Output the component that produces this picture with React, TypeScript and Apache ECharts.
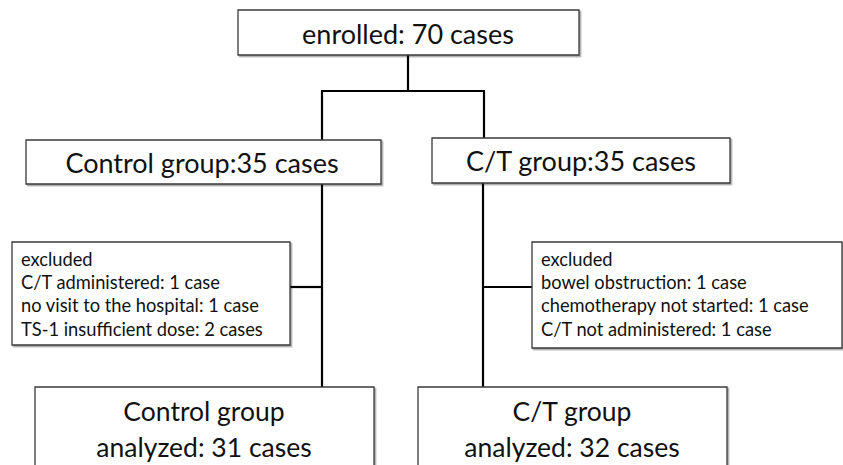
import React, { useEffect, useRef } from "react";
import * as echarts from "echarts";

// Flowchart content
const topLabel = ["enrolled: 70 cases"];
const groupLabels = ["Control group:35 cases", "C/T group:35 cases"];
const excludedControl = [
  "excluded",
  "C/T administered: 1 case",
  "no visit to the hospital: 1 case",
  "TS-1 insufficient dose: 2 cases",
];
const excludedCT = [
  "excluded",
  "bowel obstruction: 1 case",
  "chemotherapy not started: 1 case",
  "C/T not administered: 1 case",
];
const analyzedLabels = [
  ["Control group", "analyzed: 31 cases"],
  ["C/T group", "analyzed: 32 cases"],
];

const FONT = "Lato, 'Open Sans', sans-serif";

function box(x: number, y: number, w: number, h: number) {
  return {
    type: "rect",
    shape: { x, y, width: w, height: h },
    style: {
      fill: "#fff",
      stroke: "#3a3a3a",
      lineWidth: 1.3,
      shadowColor: "rgba(0,0,0,0.35)",
      shadowOffsetX: 1.5,
      shadowOffsetY: 1.5,
      shadowBlur: 1,
    },
  };
}

function line(x1: number, y1: number, x2: number, y2: number) {
  return {
    type: "line",
    shape: { x1, y1, x2, y2 },
    style: { stroke: "#000", lineWidth: 2.2 },
  };
}

function text(t: string, x: number, y: number, size: number, align: string) {
  return {
    type: "text",
    x,
    y,
    style: {
      text: t,
      fontFamily: FONT,
      fontSize: size,
      fill: "#111",
      align,
      verticalAlign: "middle",
    },
  };
}

export default function App() {
  const ref = useRef<HTMLDivElement>(null);
  useEffect(() => {
    document.body.style.margin = "0";
    const chart = echarts.init(ref.current!, null, { renderer: "svg" });
    const els: any[] = [];
    // connectors
    els.push(line(408, 55, 408, 91));
    els.push(line(321, 91, 485, 91));
    els.push(line(322, 91, 322, 140));
    els.push(line(484, 91, 484, 138));
    els.push(line(322, 184, 322, 387));
    els.push(line(483, 183, 483, 387));
    els.push(line(290, 287, 322, 287));
    els.push(line(483, 287, 532, 287));
    // boxes
    els.push(box(238, 10, 341, 45));
    els.push(text(topLabel[0], 408, 33, 27, "center"));
    els.push(box(26, 140, 355, 44));
    els.push(text(groupLabels[0], 202, 162, 27, "center"));
    els.push(box(432, 138, 298, 45));
    els.push(text(groupLabels[1], 581, 160, 27, "center"));
    els.push(box(12, 242, 278, 103));
    excludedControl.forEach((t, i) => els.push(text(t, 21, 259 + i * 23.2, 18.3, "left")));
    els.push(box(532, 242, 310, 106));
    excludedCT.forEach((t, i) => els.push(text(t, 541, 259 + i * 23.2, 18.3, "left")));
    els.push(box(35, 387, 339, 100));
    els.push(text(analyzedLabels[0][0], 204, 411, 26.5, "center"));
    els.push(text(analyzedLabels[0][1], 204, 447, 26.5, "center"));
    els.push(box(418, 387, 309, 100));
    els.push(text(analyzedLabels[1][0], 572, 411, 26.5, "center"));
    els.push(text(analyzedLabels[1][1], 572, 447, 26.5, "center"));
    chart.setOption({ animation: false, backgroundColor: "#fff", graphic: { elements: els } });
    return () => chart.dispose();
  }, []);
  return <div ref={ref} style={{ width: 843, height: 465 }} />;
}
